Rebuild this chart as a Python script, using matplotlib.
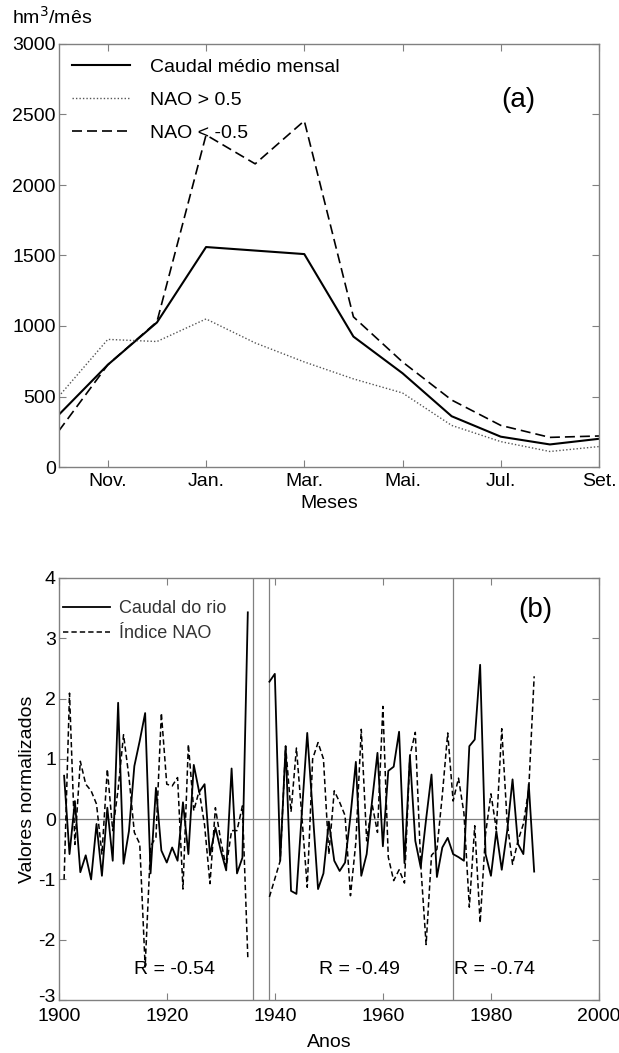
import matplotlib
matplotlib.use("Agg")
import matplotlib.pyplot as plt
from matplotlib.transforms import ScaledTranslation
import numpy as np

plt.rcParams['font.family'] = ['Liberation Sans', 'DejaVu Sans']
plt.rcParams['axes.unicode_minus'] = False

# ---- Panel (a) data: monthly means, Oct..Sep ----
meses_idx = list(range(12))
caudal_medio = [370, 725, 1025, 1560, 1535, 1510, 925, 665, 360, 215, 160, 200]
nao_pos = [500, 905, 890, 1050, 880, 745, 625, 525, 295, 180, 110, 145]
nao_neg = [255, 725, 1030, 2355, 2150, 2455, 1065, 745, 475, 295, 210, 220]
mes_ticks = [1, 3, 5, 7, 9, 11]
mes_labels = ["Nov.", "Jan.", "Mar.", "Mai.", "Jul.", "Set."]

# ---- Panel (b) data: normalised annual series ----
anos_1 = list(range(1901, 1936))
caudal_1 = [0.72, -0.58, 0.30, -0.88, -0.60, -1.00, -0.08, -0.94, 0.19, -0.69,
            1.93, -0.74, -0.20, 0.88, 1.30, 1.76, -0.90, 0.52, -0.52, -0.72,
            -0.47, -0.69, 0.28, -0.58, 0.90, 0.45, 0.58, -0.60, -0.14, -0.52,
            -0.85, 0.84, -0.90, -0.64, 3.43]
nao_1 = [-1.00, 2.09, -0.42, 0.96, 0.58, 0.47, 0.25, -0.58, 0.83, -0.19,
         0.50, 1.40, 0.70, -0.22, -0.41, -2.45, -0.45, -0.30, 1.76, 0.58,
         0.55, 0.69, -1.16, 1.24, 0.14, 0.47, -0.10, -1.07, 0.19, -0.36,
         -0.80, -0.19, -0.19, 0.22, -2.29]
anos_2 = list(range(1939, 1989))
caudal_2 = [2.28, 2.41, -0.69, 1.21, -1.19, -1.24, 0.10, 1.43, 0.14, -1.16,
            -0.90, -0.04, -0.69, -0.86, -0.72, 0.05, 0.95, -0.94, -0.58, 0.30,
            1.10, -0.45, 0.80, 0.87, 1.45, -0.73, 1.05, -0.36, -0.80, 0.00,
            0.74, -0.96, -0.47, -0.31, -0.58, -0.63, -0.69, 1.21, 1.32, 2.56,
            -0.58, -0.94, -0.20, -0.84, -0.20, 0.66, -0.41, -0.58, 0.58, -0.87]
nao_2 = [-1.29, -0.99, -0.69, 1.21, 0.12, 1.18, 0.05, -1.13, 1.00, 1.27,
         1.00, -0.58, 0.47, 0.28, 0.06, -1.27, -0.38, 1.49, -0.36, 0.25,
         -0.22, 1.87, -0.63, -1.02, -0.84, -1.06, 1.05, 1.44, -0.75, -2.08,
         -0.60, -0.50, 0.40, 1.43, 0.30, 0.68, 0.10, -1.46, -0.11, -1.72,
         -0.25, 0.42, -0.17, 1.50, -0.05, -0.75, -0.36, -0.08, 0.50, 2.37]
divisoes = [1936, 1939, 1973]
r_textos = ["R = -0.54", "R = -0.49", "R = -0.74"]
r_pos_x = [1921.5, 1955.6, 1980.6]

W, H = 619, 1053
fig = plt.figure(figsize=(W / 100, H / 100), dpi=100)
spine_c = '#808080'
fs = 14

def style(ax, xpad=4):
    for s in ax.spines.values():
        s.set_color(spine_c)
        s.set_linewidth(1.0)
    ax.tick_params(direction='in', top=True, right=True, length=5,
                   color=spine_c, labelsize=fs)
    ax.tick_params(axis='x', pad=xpad)
    ax.tick_params(axis='y', pad=2)

# ---------------- Panel (a) ----------------
axa = fig.add_axes([58.7 / W, 1 - 467 / H, (599 - 58.7) / W, (467 - 44) / H])
style(axa)
axa.plot(meses_idx, caudal_medio, color='black', lw=1.5, label='Caudal médio mensal')
axa.plot(meses_idx, nao_pos, color='#555555', lw=1.0, ls=(0, (1, 1.5)), label='NAO > 0.5')
axa.plot(meses_idx, nao_neg, color='black', lw=1.2, ls=(0, (6, 3)), label='NAO < -0.5')
axa.set_xlim(0, 11)
axa.set_ylim(0, 3000)
axa.set_yticks(range(0, 3001, 500))
axa.set_xticks(mes_ticks)
axa.set_xticklabels(mes_labels)
axa.set_xlabel('Meses', fontsize=fs, labelpad=4)
leg = axa.legend(loc='upper left', frameon=False, fontsize=fs, handlelength=3.0,
                 handletextpad=1.0, labelspacing=0.8, borderaxespad=0.0,
                 bbox_to_anchor=(0.01, 0.985))
axa.text(0.85, 0.868, '(a)', transform=axa.transAxes, fontsize=20,
         ha='center', va='center')
fig.text(12 / W, 1 - 17 / H, 'hm$^3$/mês', fontsize=fs, ha='left', va='center')

# ---------------- Panel (b) ----------------
axb = fig.add_axes([58.7 / W, 1 - 1000 / H, (599 - 58.7) / W, (1000 - 578) / H])
style(axb, xpad=6)
axb.axhline(0, color='#808080', lw=0.9, zorder=1)
for d in divisoes:
    axb.axvline(d, color='#808080', lw=0.9, zorder=1)
axb.plot(anos_1, caudal_1, color='black', lw=1.3, label='Caudal do rio')
axb.plot(anos_1, nao_1, color='black', lw=1.1, ls=(0, (3.5, 2)), label='Índice NAO')
axb.plot(anos_2, caudal_2, color='black', lw=1.3)
axb.plot(anos_2, nao_2, color='black', lw=1.1, ls=(0, (3.5, 2)))
axb.set_xlim(1900, 2000)
axb.set_ylim(-3, 4)
axb.set_xticks(range(1900, 2001, 20))
axb.set_yticks(range(-3, 5))
# nudge the lowest y tick label up a little so it does not collide with "1900"
lbl = axb.get_yticklabels()[0]
lbl.set_transform(lbl.get_transform() + ScaledTranslation(0, 5 / 100, fig.dpi_scale_trans))
axb.set_xlabel('Anos', fontsize=fs, labelpad=6)
axb.set_ylabel('Valores normalizados', fontsize=fs, labelpad=2)
legb = axb.legend(loc='upper left', frameon=False, fontsize=13, handlelength=2.6,
                  handletextpad=0.5, labelspacing=0.45, borderaxespad=0.0,
                  bbox_to_anchor=(-0.005, 0.965))
for t in legb.get_texts():
    t.set_color('#333333')
for x, t in zip(r_pos_x, r_textos):
    axb.text(x, -2.5, t, fontsize=fs, ha='center', va='center')
axb.text(0.882, 0.925, '(b)', transform=axb.transAxes, fontsize=20,
         ha='center', va='center')

fig.savefig('out.png', dpi=100)
